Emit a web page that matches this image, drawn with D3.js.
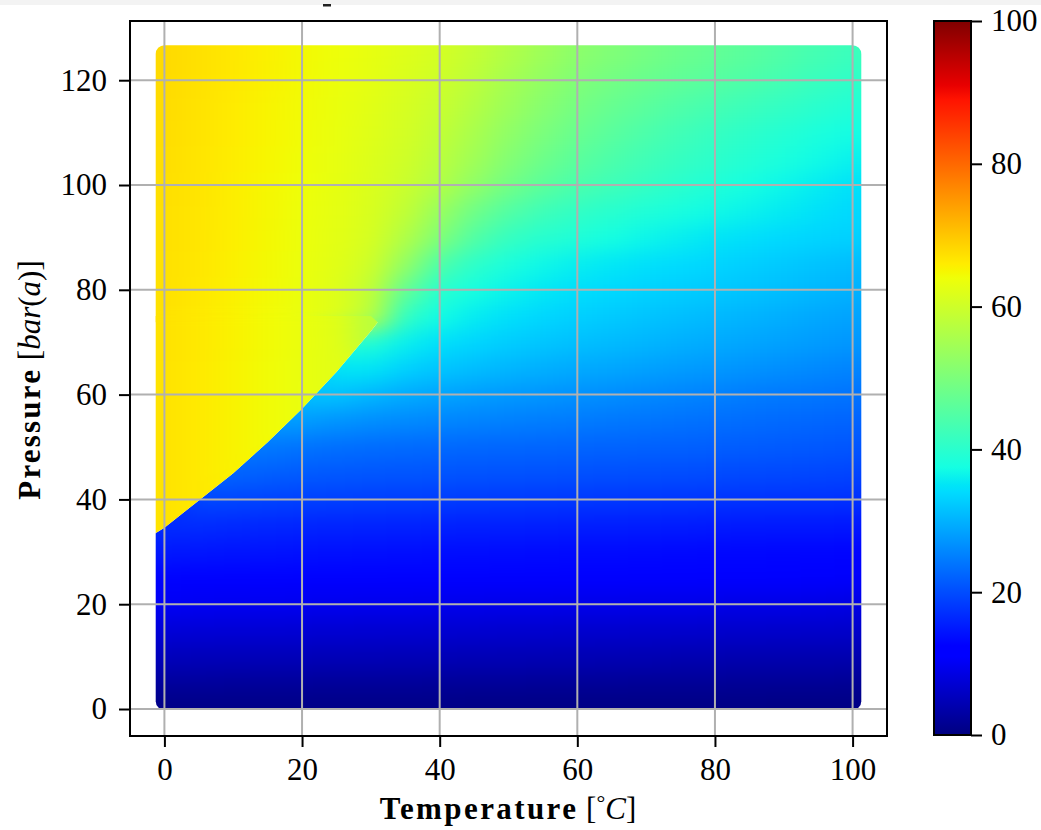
<!DOCTYPE html>
<html>
<head>
<meta charset="utf-8">
<script src="https://cdn.jsdelivr.net/npm/d3@7"></script>
<style>
  body { margin: 0; background: #fff; }
  svg { display: block; }
</style>
</head>
<body>
<script>
// scatter grid (temperature columns, pressure rows)
const temperatures = [0, 5, 10, 15, 20, 25, 30, 35, 40, 45, 50, 55, 60, 65, 70, 75, 80, 85, 90, 95, 100];
const pressures = [1.5, 5, 10, 15, 20, 25, 30, 35, 40, 45, 50, 55, 60, 65, 70, 75, 80, 85, 90, 95, 100, 105, 110, 115, 120, 125];
const values = [
  [0.7, 0.7, 0.7, 0.7, 0.7, 0.7, 0.7, 0.7, 0.7, 0.6, 0.6, 0.6, 0.6, 0.6, 0.6, 0.6, 0.6, 0.6, 0.5, 0.5, 0.5],
  [2.6, 2.6, 2.5, 2.5, 2.5, 2.4, 2.4, 2.4, 2.3, 2.3, 2.3, 2.2, 2.2, 2.2, 2.1, 2.1, 2.1, 2.0, 2.0, 2.0, 1.9],
  [5.1, 5.0, 5.0, 4.9, 4.9, 4.8, 4.8, 4.7, 4.7, 4.6, 4.6, 4.5, 4.5, 4.4, 4.4, 4.3, 4.3, 4.2, 4.2, 4.1, 4.1],
  [7.6, 7.5, 7.4, 7.3, 7.3, 7.2, 7.1, 7.1, 7.0, 7.0, 6.9, 6.9, 6.8, 6.8, 6.7, 6.7, 6.6, 6.6, 6.5, 6.5, 6.4],
  [10.2, 10.0, 9.9, 9.8, 9.7, 9.6, 9.5, 9.5, 9.4, 9.4, 9.3, 9.3, 9.2, 9.2, 9.1, 9.1, 9.0, 8.9, 8.9, 8.8, 8.7],
  [12.6, 12.4, 12.2, 12.1, 12.0, 11.9, 11.8, 11.7, 11.7, 11.6, 11.5, 11.5, 11.4, 11.3, 11.3, 11.2, 11.1, 11.1, 11.0, 10.9, 10.8],
  [14.8, 14.6, 14.4, 14.3, 14.1, 14.0, 13.9, 13.8, 13.7, 13.7, 13.6, 13.5, 13.4, 13.4, 13.3, 13.2, 13.1, 13.1, 13.0, 12.9, 12.8],
  [67.0, 16.7, 16.4, 16.2, 16.0, 15.9, 15.8, 15.7, 15.6, 15.5, 15.5, 15.4, 15.3, 15.3, 15.2, 15.1, 15.0, 14.9, 14.9, 14.8, 14.7],
  [67.0, 66.2, 19.4, 19.1, 18.9, 18.7, 18.6, 18.5, 18.4, 18.3, 18.2, 18.1, 18.0, 17.9, 17.8, 17.7, 17.6, 17.5, 17.4, 17.3, 17.2],
  [67.0, 66.2, 22.3, 21.8, 21.4, 21.1, 20.9, 20.8, 20.7, 20.6, 20.5, 20.4, 20.3, 20.2, 20.1, 20.0, 19.9, 19.7, 19.6, 19.4, 19.2],
  [67.0, 66.2, 65.3, 24.3, 23.8, 23.4, 23.1, 22.9, 22.7, 22.6, 22.5, 22.4, 22.3, 22.2, 22.0, 21.9, 21.7, 21.5, 21.3, 21.1, 20.8],
  [67.0, 66.2, 65.3, 64.3, 27.8, 27.0, 26.4, 26.0, 25.6, 25.3, 25.0, 24.8, 24.6, 24.3, 24.0, 23.7, 23.4, 23.1, 22.8, 22.5, 22.2],
  [67.0, 66.2, 65.3, 64.3, 63.3, 31.5, 30.3, 29.3, 28.6, 28.0, 27.5, 27.1, 26.7, 26.3, 25.9, 25.5, 25.1, 24.7, 24.4, 24.1, 23.8],
  [67.0, 66.2, 65.3, 64.3, 63.3, 62.3, 35.0, 33.0, 31.8, 31.0, 30.3, 29.7, 29.2, 28.8, 28.3, 27.8, 27.4, 26.9, 26.4, 25.9, 25.4],
  [67.1, 66.3, 65.4, 64.4, 63.4, 62.3, 39.0, 36.0, 34.5, 33.5, 32.6, 31.9, 31.3, 30.8, 30.3, 29.8, 29.3, 28.8, 28.3, 27.8, 27.3],
  [67.1, 66.3, 65.4, 64.4, 63.4, 62.2, 57.5, 41.0, 37.3, 35.6, 34.5, 33.6, 32.9, 32.3, 31.7, 31.2, 30.6, 30.1, 29.6, 29.0, 28.5],
  [67.2, 66.4, 65.5, 64.5, 63.5, 62.0, 58.5, 47.0, 40.0, 37.8, 36.3, 35.2, 34.4, 33.8, 33.2, 32.7, 32.2, 31.7, 31.1, 30.5, 29.9],
  [67.2, 66.5, 65.6, 64.6, 63.6, 62.4, 60.0, 53.0, 44.5, 40.5, 38.3, 36.8, 35.8, 35.1, 34.5, 34.0, 33.4, 32.8, 32.2, 31.6, 30.9],
  [67.3, 66.6, 65.7, 64.7, 63.7, 62.6, 61.0, 56.5, 50.5, 45.0, 41.5, 39.8, 38.8, 37.6, 36.6, 35.8, 35.0, 34.4, 33.8, 33.4, 33.0],
  [67.3, 66.6, 65.8, 64.8, 63.8, 62.8, 61.3, 58.5, 53.5, 48.5, 45.0, 42.5, 41.0, 39.8, 38.8, 37.9, 37.0, 36.2, 35.4, 34.6, 33.8],
  [67.4, 66.7, 65.8, 64.9, 64.0, 63.0, 61.6, 59.5, 56.5, 52.5, 48.8, 46.0, 44.0, 42.5, 41.2, 40.0, 38.8, 37.7, 36.6, 35.6, 34.6],
  [67.5, 66.8, 65.9, 65.0, 64.1, 63.1, 61.8, 60.2, 57.6, 54.5, 51.0, 48.3, 46.0, 44.3, 42.8, 41.5, 40.3, 39.2, 38.1, 37.1, 36.1],
  [67.6, 66.9, 66.0, 65.1, 64.3, 63.3, 62.1, 60.6, 58.5, 55.6, 52.5, 49.9, 47.6, 45.8, 44.2, 42.8, 41.5, 40.4, 39.3, 38.3, 37.4],
  [67.7, 67.0, 66.1, 65.2, 64.4, 63.5, 62.4, 61.0, 59.3, 56.8, 54.0, 51.4, 49.2, 47.4, 45.9, 44.5, 43.3, 42.2, 41.1, 40.0, 39.0],
  [67.8, 67.1, 66.3, 65.4, 64.5, 63.7, 62.8, 61.5, 60.0, 57.8, 55.2, 52.8, 50.5, 49.0, 47.7, 46.5, 45.4, 44.3, 43.1, 41.8, 40.6],
  [67.9, 67.2, 66.4, 65.5, 64.6, 63.9, 63.1, 62.0, 60.8, 58.8, 56.5, 54.2, 52.0, 50.5, 49.2, 48.0, 46.9, 45.8, 44.6, 43.3, 42.0]
];
// sharp liquid / vapour edge seen in the picture, ends near the critical point
const satTemperatures = [-5, 0, 5, 10, 15, 20, 25, 30, 31];
const satPressures = [30.5, 34.6, 39.8, 45.0, 50.9, 57.3, 64.3, 72.1, 73.8];

const xTicks = [0, 20, 40, 60, 80, 100];
const yTicks = [0, 20, 40, 60, 80, 100, 120];
const cbarTicks = [0, 20, 40, 60, 80, 100];

const W = 1041, H = 830;
const FONT = "'Liberation Serif', 'DejaVu Serif', serif";

// matplotlib "jet"
const jetR = [[0, 0], [0.35, 0], [0.66, 1], [0.89, 1], [1, 0.5]];
const jetG = [[0, 0], [0.125, 0], [0.375, 1], [0.64, 1], [0.91, 0], [1, 0]];
const jetB = [[0, 0.5], [0.11, 1], [0.34, 1], [0.65, 0], [1, 0]];
function seg(pts, t) {
  for (let k = 1; k < pts.length; k++) {
    if (t <= pts[k][0]) {
      const [t0, v0] = pts[k - 1], [t1, v1] = pts[k];
      return v0 + (v1 - v0) * (t - t0) / (t1 - t0);
    }
  }
  return pts[pts.length - 1][1];
}
function jet(t) {
  t = Math.max(0, Math.min(1, t));
  return d3.rgb(seg(jetR, t) * 255, seg(jetG, t) * 255, seg(jetB, t) * 255).formatHex();
}
const cmap = d3.scaleLinear().domain([0, 100]).range([0, 1]).clamp(true);
const colorOf = v => jet(cmap(v));

const x = d3.scaleLinear().domain([-5, 105]).range([130, 887]);
const y = d3.scaleLinear().domain([-5.15, 131.3]).range([736, 21]);

const svg = d3.select("body").append("svg").attr("width", W).attr("height", H);
const defs = svg.append("defs");

// smoothing filter: blur then restore full alpha
const filt = defs.append("filter").attr("id", "smooth")
  .attr("x", "-5%").attr("y", "-5%").attr("width", "110%").attr("height", "110%")
  .attr("color-interpolation-filters", "sRGB");
filt.append("feGaussianBlur").attr("stdDeviation", "14 10");
filt.append("feComponentTransfer").append("feFuncA")
  .attr("type", "linear").attr("slope", 40).attr("intercept", 0);

// boundary helpers
function psat(t) {
  for (let k = 1; k < satTemperatures.length; k++) {
    if (t <= satTemperatures[k]) {
      const t0 = satTemperatures[k - 1], t1 = satTemperatures[k];
      return satPressures[k - 1] + (satPressures[k] - satPressures[k - 1]) * (t - t0) / (t1 - t0);
    }
  }
  return Infinity;
}
const tMax = satTemperatures[satTemperatures.length - 1];
const aboveEdge = (t, p) => t <= tMax && p > psat(t);
const inLiquid = (i, j) => aboveEdge(temperatures[j], pressures[i]) && pressures[i] <= 75;
const inGas = (i, j) => !aboveEdge(temperatures[j], pressures[i]) || pressures[i] >= 75;

const nT = temperatures.length, nP = pressures.length;
const tEdge = (j, s) => s < 0 ? (j === 0 ? -5 : (temperatures[j - 1] + temperatures[j]) / 2)
                              : (j === nT - 1 ? 105 : (temperatures[j] + temperatures[j + 1]) / 2);
const pEdge = (i, s) => s < 0 ? (i === 0 ? -6 : (pressures[i - 1] + pressures[i]) / 2)
                              : (i === nP - 1 ? 132 : (pressures[i] + pressures[i + 1]) / 2);

const gasCells = [], liqCells = [];
pressures.forEach((p, i) => {
  temperatures.forEach((t, j) => {
    const v = values[i][j];
    if (inGas(i, j)) {
      let t0 = tEdge(j, -1), t1 = tEdge(j, 1), p0 = pEdge(i, -1), p1 = pEdge(i, 1);
      if (i + 1 < nP && !inGas(i + 1, j)) p1 = pEdge(i + 1, 1);
      if (j > 0 && !inGas(i, j - 1)) t0 = tEdge(j - 1, -1);
      gasCells.push({ t0, t1, p0, p1, v });
    }
    if (inLiquid(i, j)) {
      let t0 = tEdge(j, -1), t1 = tEdge(j, 1), p0 = pEdge(i, -1), p1 = pEdge(i, 1);
      if (i > 0 && !inLiquid(i - 1, j)) p0 = pEdge(i - 1, -1);
      if (j + 1 < nT && !inLiquid(i, j + 1)) t1 = tEdge(j + 1, 1);
      liqCells.push({ t0, t1, p0, p1, v });
    }
  });
});

// clip paths
const r = 8.7;
defs.append("clipPath").attr("id", "dataClip").append("rect")
  .attr("x", x(0) - r).attr("y", y(125) - r)
  .attr("width", x(100) - x(0) + 2 * r).attr("height", y(pressures[0]) - y(125) + 2 * r)
  .attr("rx", r).attr("ry", r);

// the liquid layer reaches a little above the edge's end so it overlaps the gas layer there
const edgePts = satTemperatures.map((t, k) => [x(t), y(satPressures[k])]);
const gasHoleD = "M" + edgePts.concat([[x(-5), y(satPressures[satPressures.length - 1])]])
  .map(d => d.join(",")).join("L") + "Z";
const liqD = "M" + edgePts.concat([[x(30), y(75)], [x(-5), y(75)]])
  .map(d => d.join(",")).join("L") + "Z";
defs.append("clipPath").attr("id", "liqClip").append("path").attr("d", liqD);
defs.append("clipPath").attr("id", "gasClip").append("path")
  .attr("clip-rule", "evenodd")
  .attr("d", `M0,0H${W}V${H}H0Z` + gasHoleD);

// top strip of the screenshot
svg.append("rect").attr("x", 0).attr("y", 0).attr("width", W).attr("height", 5).attr("fill", "#f3f3f3");
svg.append("rect").attr("x", 323).attr("y", 4).attr("width", 8).attr("height", 2.5).attr("fill", "#222");

const dataG = svg.append("g").attr("clip-path", "url(#dataClip)");

function drawLayer(cells, clipId) {
  dataG.append("g").attr("clip-path", `url(#${clipId})`)
    .append("g").attr("filter", "url(#smooth)")
    .selectAll("rect")
    .data(cells)
    .join("rect")
    .attr("x", d => x(d.t0))
    .attr("y", d => y(d.p1))
    .attr("width", d => x(d.t1) - x(d.t0) + 0.6)
    .attr("height", d => y(d.p0) - y(d.p1) + 0.6)
    .attr("fill", d => colorOf(d.v));
}
drawLayer(gasCells, "gasClip");
drawLayer(liqCells, "liqClip");

// grid
const grid = svg.append("g").attr("stroke", "#b0b0b0").attr("stroke-width", 2);
grid.selectAll(".gx").data(xTicks).join("line")
  .attr("x1", d => x(d)).attr("x2", d => x(d)).attr("y1", 21).attr("y2", 736);
grid.selectAll(".gy").data(yTicks).join("line")
  .attr("y1", d => y(d)).attr("y2", d => y(d)).attr("x1", 130).attr("x2", 887);

// frame
svg.append("rect").attr("x", 130).attr("y", 21).attr("width", 757).attr("height", 715)
  .attr("fill", "none").attr("stroke", "#000").attr("stroke-width", 2);

function styleAxis(g) {
  g.select(".domain").remove();
  g.selectAll(".tick line").attr("stroke", "#000").attr("stroke-width", 2);
  g.selectAll(".tick text").attr("fill", "#000");
  g.attr("font-family", FONT).attr("font-size", 31);
}

svg.append("g").attr("transform", "translate(0,736)")
  .call(d3.axisBottom(x).tickValues(xTicks).tickSize(11).tickPadding(11).tickFormat(d3.format("d")))
  .call(styleAxis);

svg.append("g").attr("transform", "translate(130,0)")
  .call(d3.axisLeft(y).tickValues(yTicks).tickSize(11).tickPadding(12).tickFormat(d3.format("d")))
  .call(styleAxis);

// axis labels
const xl = svg.append("text").attr("x", 508).attr("y", 819).attr("text-anchor", "middle")
  .attr("font-family", FONT).attr("font-size", 31).attr("fill", "#000");
xl.append("tspan").attr("font-weight", "bold").attr("letter-spacing", 2.4).text("Temperature");
xl.append("tspan").text(" [");
xl.append("tspan").attr("font-size", 22).attr("dy", -9).text("°");
xl.append("tspan").attr("font-style", "italic").attr("dy", 9).text("C");
xl.append("tspan").text("]");

const yl = svg.append("text").attr("transform", "translate(40,380) rotate(-90)")
  .attr("text-anchor", "middle")
  .attr("font-family", FONT).attr("font-size", 31).attr("fill", "#000");
yl.append("tspan").attr("font-weight", "bold").attr("letter-spacing", 2.2).text("Pressure");
yl.append("tspan").text(" [");
yl.append("tspan").attr("font-style", "italic").text("bar");
yl.append("tspan").text("(");
yl.append("tspan").attr("font-style", "italic").text("a");
yl.append("tspan").text(")]");

// colorbar
const cb = { x: 934, y: 21, w: 37, h: 714 };
const cbScale = d3.scaleLinear().domain([0, 100]).range([cb.y + cb.h, cb.y]);
const grad = defs.append("linearGradient").attr("id", "jetGrad")
  .attr("x1", 0).attr("y1", 1).attr("x2", 0).attr("y2", 0);
const stops = [0, 0.11, 0.125, 0.34, 0.35, 0.375, 0.64, 0.65, 0.66, 0.89, 0.91, 1];
grad.selectAll("stop").data(stops).join("stop")
  .attr("offset", d => d).attr("stop-color", d => jet(d));
svg.append("rect").attr("x", cb.x).attr("y", cb.y).attr("width", cb.w).attr("height", cb.h)
  .attr("fill", "url(#jetGrad)").attr("stroke", "#000").attr("stroke-width", 2);
svg.append("g").attr("transform", `translate(${cb.x + cb.w},0)`)
  .call(d3.axisRight(cbScale).tickValues(cbarTicks).tickSize(11).tickPadding(9).tickFormat(d3.format("d")))
  .call(styleAxis);
</script>
</body>
</html>
